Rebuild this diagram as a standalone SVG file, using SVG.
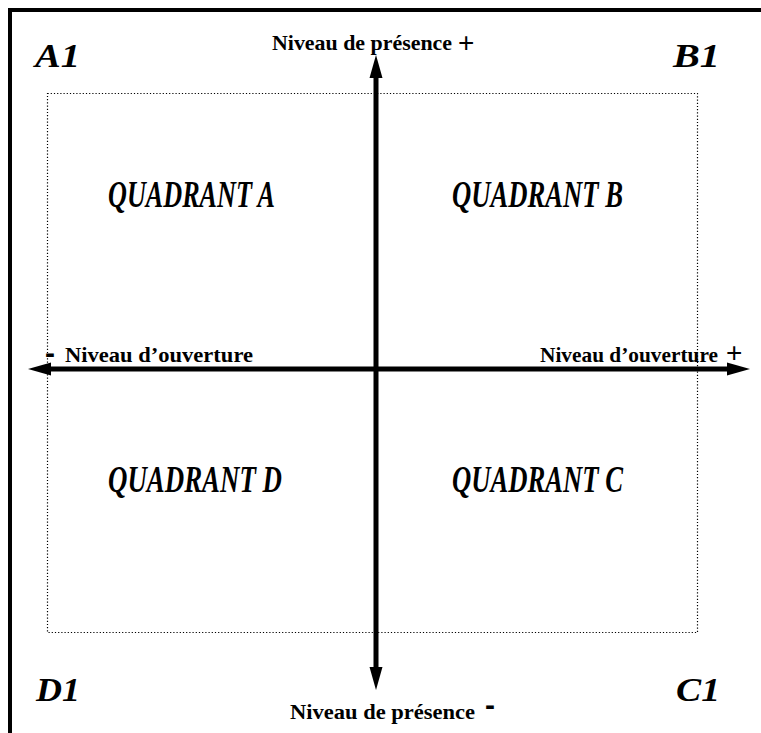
<svg xmlns="http://www.w3.org/2000/svg" width="761" height="733" viewBox="0 0 761 733">
<style>
.frame{stroke:#000;stroke-width:4;fill:none}
.dot{stroke:#000;stroke-width:1.2;fill:none;stroke-dasharray:1.2 2}
.axis{stroke:#000;stroke-width:5;fill:none}
.corner{font-family:"Liberation Serif","Times New Roman",serif;font-weight:bold;font-style:italic;font-size:34px;fill:#000}
.quad{font-family:"Liberation Serif","Times New Roman",serif;font-weight:bold;font-style:italic;font-size:38px;fill:#000}
.lab{font-family:"Liberation Serif","Times New Roman",serif;font-weight:bold;font-size:22px;fill:#000}
.minus{font-family:"Liberation Sans",sans-serif;font-weight:bold;font-size:30px;fill:#000}
.sign{font-family:"Liberation Sans",sans-serif;font-size:28px;fill:#000}
</style>
<rect width="761" height="733" fill="#fff"/>
<g id="frame">
<path class="frame" d="M10 733 V10 H761"/>
</g>
<g id="box">
<rect class="dot" x="47.5" y="93.5" width="650" height="539"/>
</g>
<g id="connectors">
<line class="axis" x1="376" y1="74" x2="376" y2="670"/>
<polygon points="376,55 369.5,78 382.5,78" fill="#000"/>
<polygon points="376,690 369.5,667 382.5,667" fill="#000"/>
<line class="axis" x1="48" y1="369" x2="730" y2="369"/>
<polygon points="28,369 51,362.5 51,375.5" fill="#000"/>
<polygon points="750,369 727,362.5 727,375.5" fill="#000"/>
</g>
<g id="corner-A1"><text class="corner" x="35" y="67" textLength="45" lengthAdjust="spacingAndGlyphs">A1</text></g>
<g id="corner-B1"><text class="corner" x="673" y="67" textLength="47" lengthAdjust="spacingAndGlyphs">B1</text></g>
<g id="corner-D1"><text class="corner" x="36" y="701" textLength="44" lengthAdjust="spacingAndGlyphs">D1</text></g>
<g id="corner-C1"><text class="corner" x="676" y="701" textLength="44" lengthAdjust="spacingAndGlyphs">C1</text></g>
<g id="quadrant-A"><text class="quad" x="108" y="207" textLength="167" lengthAdjust="spacingAndGlyphs">QUADRANT A</text></g>
<g id="quadrant-B"><text class="quad" x="452" y="207" textLength="171" lengthAdjust="spacingAndGlyphs">QUADRANT B</text></g>
<g id="quadrant-D"><text class="quad" x="108" y="492" textLength="174" lengthAdjust="spacingAndGlyphs">QUADRANT D</text></g>
<g id="quadrant-C"><text class="quad" x="452" y="492" textLength="171" lengthAdjust="spacingAndGlyphs">QUADRANT C</text></g>
<g id="label-top">
<text class="lab" x="272" y="50" style="font-size:21.5px" textLength="180" lengthAdjust="spacingAndGlyphs">Niveau de présence</text>
<text class="sign" x="458" y="52">+</text>
</g>
<g id="label-bottom">
<text class="lab" x="290" y="719" textLength="185" lengthAdjust="spacingAndGlyphs">Niveau de présence</text>
<text class="minus" x="485" y="715">-</text>
</g>
<g id="label-left">
<text class="minus" x="45" y="363">-</text>
<text class="lab" x="65" y="362" textLength="188" lengthAdjust="spacingAndGlyphs">Niveau d’ouverture</text>
</g>
<g id="label-right">
<text class="lab" x="540" y="362" style="font-size:21px" textLength="178" lengthAdjust="spacingAndGlyphs">Niveau d’ouverture</text>
<text class="sign" x="726" y="362">+</text>
</g>
</svg>
